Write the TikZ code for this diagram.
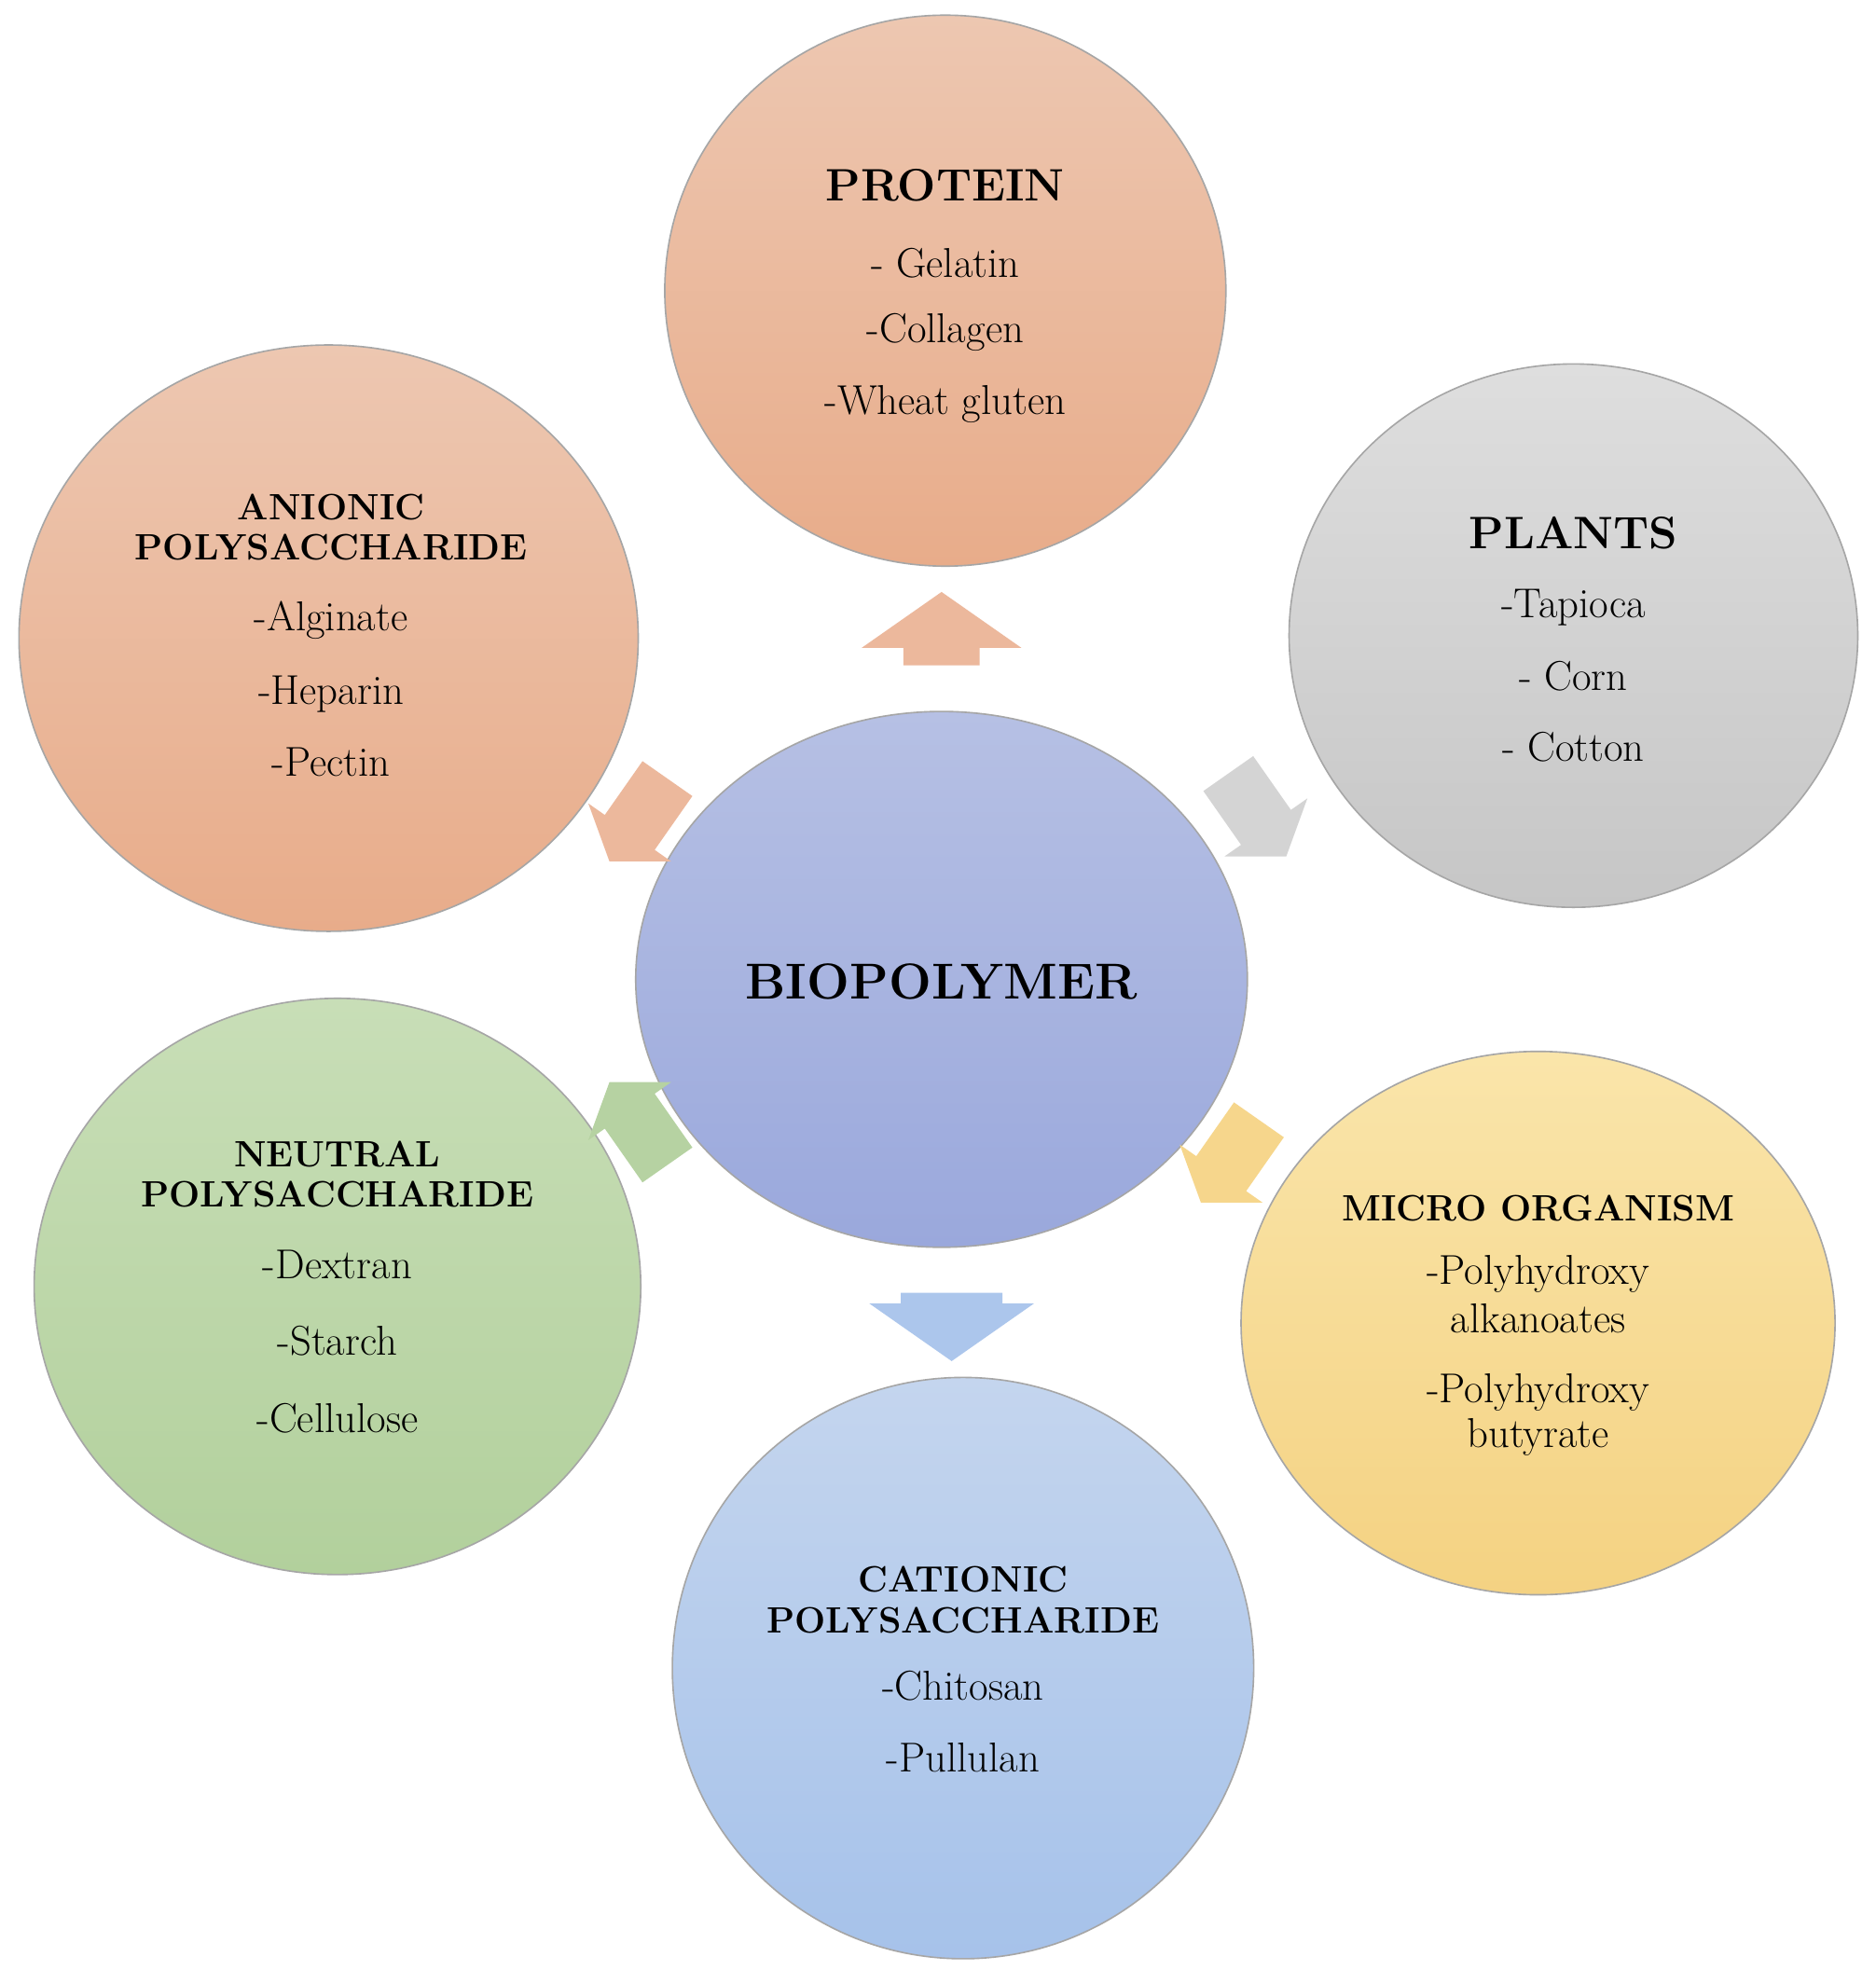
\documentclass[tikz,border=0pt]{standalone}
\usetikzlibrary{shapes.geometric,shapes.arrows}
\begin{document}
\begin{tikzpicture}[x=1pt,y=-1pt,
 circ/.style={ellipse,draw=gray!70,line width=1.2pt,inner sep=0pt},
 ttl/.style={font=\bfseries\fontsize{36}{40}\selectfont},
 sub/.style={font=\bfseries\fontsize{29}{29}\selectfont},
 itm/.style={font=\fontsize{33}{36}\selectfont},
 blk/.style={single arrow,inner sep=0pt,single arrow head extend=0pt,single arrow tip angle=110}]
\useasboundingbox[fill=white] (0,0) rectangle (1484,1570);
\node[circ,minimum width=444,minimum height=436,top color={rgb,255:red,237;green,199;blue,177},bottom color={rgb,255:red,232;green,172;blue,138}] (prot) at (748,230) {};
\node[circ,minimum width=450,minimum height=430,top color={rgb,255:red,222;green,222;blue,222},bottom color={rgb,255:red,198;green,198;blue,198}] (plan) at (1245,503) {};
\node[circ,minimum width=490,minimum height=464,top color={rgb,255:red,237;green,199;blue,177},bottom color={rgb,255:red,232;green,172;blue,138}] (anio) at (260,505) {};
\node[circ,minimum width=484,minimum height=424,top color={rgb,255:red,182;green,192;blue,228},bottom color={rgb,255:red,154;green,168;blue,220}] (bio) at (745,775) {};
\node[circ,minimum width=480,minimum height=456,top color={rgb,255:red,200;green,222;blue,183},bottom color={rgb,255:red,178;green,208;blue,156}] (neut) at (267,1018) {};
\node[circ,minimum width=470,minimum height=430,top color={rgb,255:red,250;green,229;blue,170},bottom color={rgb,255:red,244;green,210;blue,130}] (micr) at (1217,1047) {};
\node[circ,minimum width=460,minimum height=460,top color={rgb,255:red,196;green,213;blue,238},bottom color={rgb,255:red,166;green,194;blue,234}] (cati) at (762,1320) {};
% arrows
\node[blk,rotate=90,minimum height=58,minimum width=126,single arrow head extend=33,fill={rgb,255:red,236;green,184;blue,156}] (a1) at (745,508) {\rule{0pt}{60pt}\hspace{10pt}};
\node[blk,rotate=-90,minimum height=54,minimum width=130,single arrow head extend=25,fill={rgb,255:red,172;green,198;blue,236}] (a2) at (753,1036) {\rule{0pt}{80pt}\hspace{10pt}};
\node[blk,rotate=-55,minimum height=80,minimum width=80,single arrow head extend=15,fill={rgb,255:red,212;green,212;blue,212}] (a3) at (990,638) {\rule{0pt}{45pt}\hspace{10pt}};
\node[blk,rotate=235,minimum height=80,minimum width=80,single arrow head extend=15,fill={rgb,255:red,236;green,184;blue,156}] (a4) at (510,642) {\rule{0pt}{45pt}\hspace{10pt}};
\node[blk,rotate=-125,minimum height=80,minimum width=80,single arrow head extend=15,fill={rgb,255:red,246;green,214;blue,140}] (a5) at (978,912) {\rule{0pt}{45pt}\hspace{10pt}};
\node[blk,rotate=125,minimum height=80,minimum width=80,single arrow head extend=15,fill={rgb,255:red,182;green,210;blue,162}] (a6) at (510,896) {\rule{0pt}{45pt}\hspace{10pt}};
% texts
\node[ttl] (t1) at (748,147) {PROTEIN};
\node[itm] (t1a) at (748,208) {- Gelatin};
\node[itm] (t1b) at (748,263) {-Collagen};
\node[itm] (t1c) at (748,320) {-Wheat gluten};
\node[ttl] (t2) at (1245,422) {PLANTS};
\node[itm] (t2a) at (1245,481) {-Tapioca};
\node[itm] (t2b) at (1245,535) {- Corn};
\node[itm] (t2c) at (1245,591) {- Cotton};
\node[sub] (t3) at (262,401) {ANIONIC};
\node[sub] (t3x) at (262,433) {POLYSACCHARIDE};
\node[itm] (t3a) at (262,491) {-Alginate};
\node[itm] (t3b) at (262,549) {-Heparin};
\node[itm] (t3c) at (262,603) {-Pectin};
\node[font=\bfseries\fontsize{40}{44}\selectfont] (t4) at (745,777) {BIOPOLYMER};
\node[sub] (t5) at (267,913) {NEUTRAL};
\node[sub] (t5x) at (267,945) {POLYSACCHARIDE};
\node[itm] (t5a) at (267,1001) {-Dextran};
\node[itm] (t5b) at (267,1061) {-Starch};
\node[itm] (t5c) at (267,1122) {-Cellulose};
\node[sub] (t6) at (1217,956) {MICRO ORGANISM};
\node[itm] (t6a) at (1217,1008) {-Polyhydroxy};
\node[itm] (t6b) at (1217,1043) {alkanoates};
\node[itm] (t6c) at (1217,1102) {-Polyhydroxy};
\node[itm] (t6d) at (1217,1137) {butyrate};
\node[sub] (t7) at (762,1250) {CATIONIC};
\node[sub] (t7x) at (762,1282) {POLYSACCHARIDE};
\node[itm] (t7a) at (762,1334) {-Chitosan};
\node[itm] (t7b) at (762,1391) {-Pullulan};
\end{tikzpicture}
\end{document}
